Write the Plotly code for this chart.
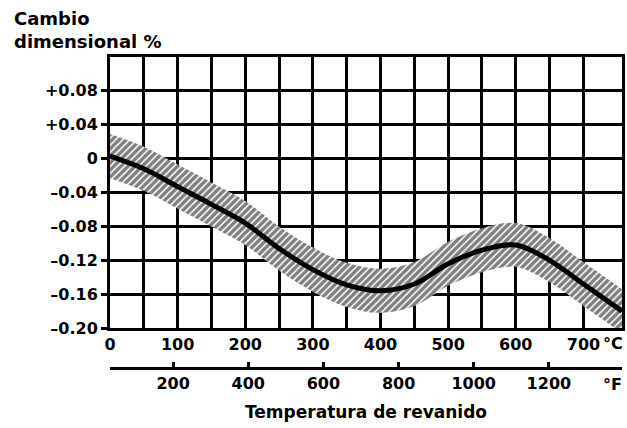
import plotly.graph_objects as go

# Data
temp_c = [0, 50, 100, 150, 200, 250, 300, 350, 400, 450, 500, 550, 600, 650, 700, 757]
center = [0.003, -0.012, -0.033, -0.054, -0.076, -0.106, -0.131, -0.149, -0.156, -0.148,
          -0.124, -0.108, -0.102, -0.120, -0.148, -0.180]
band_half = [0.026] * len(temp_c)

c_ticks = [0, 50, 100, 150, 200, 250, 300, 350, 400, 450, 500, 550, 600, 650, 700]
c_text = ["0", "", "100", "", "200", "", "300", "", "400", "", "500", "", "600", "", "700"]
y_ticks = [-0.20, -0.16, -0.12, -0.08, -0.04, 0.0, 0.04, 0.08]
y_text = ["–0.20", "–0.16", "–0.12", "–0.08", "–0.04", "0", "+0.04", "+0.08"]
f_ticks = [32, 200, 400, 600, 800, 1000, 1200]
f_text = ["", "200", "400", "600", "800", "1000", "1200"]

upper = [c + h for c, h in zip(center, band_half)]
lower = [c - h for c, h in zip(center, band_half)]
temp_f = [32 + 1.8 * t for t in temp_c]

FONT = "DejaVu Sans"
fig = go.Figure()
fig.add_trace(go.Scatter(x=temp_c, y=upper, mode="lines", line=dict(width=0, shape="spline"),
                         showlegend=False, hoverinfo="skip"))
fig.add_trace(go.Scatter(x=temp_c, y=lower, mode="lines", line=dict(width=0, shape="spline"),
                         fill="tonexty", fillcolor="white",
                         fillpattern=dict(shape="/", fgcolor="black", bgcolor="white",
                                          size=5, solidity=0.7),
                         showlegend=False, hoverinfo="skip"))
fig.add_trace(go.Scatter(x=temp_c, y=center, mode="lines",
                         line=dict(color="black", width=5, shape="spline"),
                         showlegend=False))
fig.add_trace(go.Scatter(x=temp_f, y=center, mode="lines", xaxis="x2",
                         line=dict(color="rgba(0,0,0,0)", width=0),
                         showlegend=False, hoverinfo="skip"))

tickfont = dict(family=FONT, size=16, color="black", weight="bold")
fig.update_layout(
    width=627, height=428,
    margin=dict(l=110, r=5, t=57, b=30),
    paper_bgcolor="white", plot_bgcolor="white",
    xaxis=dict(range=[0, 757], tickvals=c_ticks, ticktext=c_text, automargin=False,
               showgrid=True, gridcolor="black", gridwidth=2.5,
               showline=True, linecolor="black", linewidth=3, mirror=True,
               ticks="", tickfont=tickfont, zeroline=False, anchor="y"),
    yaxis=dict(range=[-0.20, 0.12], tickvals=y_ticks, ticktext=y_text,
               domain=[0.205, 1], automargin=False,
               showgrid=True, gridcolor="black", gridwidth=2.5,
               showline=True, linecolor="black", linewidth=3, mirror=True,
               ticks="outside", ticklen=6, tickwidth=2.5, tickcolor="black",
               tickfont=tickfont, zeroline=False),
    xaxis2=dict(range=[32, 32 + 1.8 * 757], overlaying="x", anchor="free", position=0.088,
                side="bottom", tickvals=f_ticks, ticktext=f_text, automargin=False,
                showgrid=False, zeroline=False,
                showline=True, linecolor="black", linewidth=3,
                ticks="inside", ticklen=5, tickwidth=2.5, tickcolor="black",
                tickfont=tickfont),
    annotations=[
        dict(text="Cambio<br>dimensional %", xref="paper", yref="paper",
             x=-0.192, y=1.15, xanchor="left", yanchor="top", align="left",
             showarrow=False, font=dict(family=FONT, size=18, color="black", weight="bold")),
        dict(text="°C", xref="paper", yref="paper", x=1.006, y=0.161,
             xanchor="right", yanchor="middle", showarrow=False, font=tickfont),
        dict(text="°F", xref="paper", yref="paper", x=1.004, y=0.041,
             xanchor="right", yanchor="middle", showarrow=False, font=tickfont),
        dict(text="Temperatura de revanido", xref="paper", yref="paper", x=0.5, y=-0.041,
             xanchor="center", yanchor="middle", showarrow=False,
             font=dict(family=FONT, size=17, color="black", weight="bold")),
    ],
)
fig.write_html("out.html", config={"displayModeBar": False},
               post_script="document.body.style.margin='0';document.body.style.overflow='hidden';")
